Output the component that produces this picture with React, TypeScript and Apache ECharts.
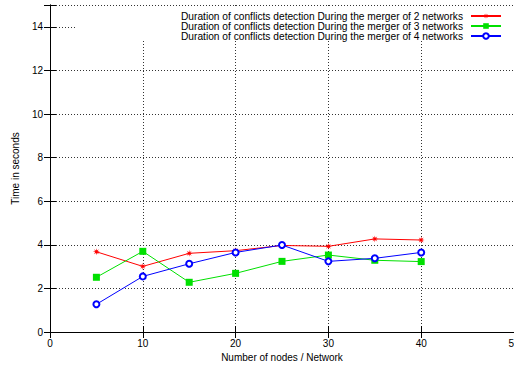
import React, { useEffect, useRef } from "react";
import * as echarts from "echarts";

const xValues = [5, 10, 15, 20, 25, 30, 35, 40];
const series2 = [3.68, 3.01, 3.61, 3.73, 3.97, 3.93, 4.27, 4.22];
const series3 = [2.51, 3.7, 2.28, 2.69, 3.24, 3.53, 3.29, 3.23];
const series4 = [1.27, 2.55, 3.13, 3.65, 3.99, 3.24, 3.38, 3.65];
const seriesNames = [
  "Duration of conflicts detection During the merger of 2 networks",
  "Duration of conflicts detection During the merger of 3 networks",
  "Duration of conflicts detection During the merger of 4 networks",
];
const xTitle = "Number of nodes / Network";
const yTitle = "Time in seconds";

const FONT = "Liberation Sans, Arial, Helvetica, sans-serif";
const starPath =
  "path://M5,0 L1.66,0.69 L3.54,3.54 L0.69,1.66 L0,5 L-0.69,1.66 L-3.54,3.54 L-1.66,0.69 L-5,0 L-1.66,-0.69 L-3.54,-3.54 L-0.69,-1.66 L0,-5 L0.69,-1.66 L3.54,-3.54 L1.66,-0.69 Z";

export default function App() {
  const ref = useRef<HTMLDivElement>(null);
  useEffect(() => {
    if (!ref.current) return;
    const chart = echarts.init(ref.current, undefined, { renderer: "svg" });
    const pair = (arr: number[]) => xValues.map((x, i) => [x, arr[i]]);
    const splitLine = {
      show: true,
      lineStyle: { color: "#333", width: 1, type: [1, 2] as any },
    };
    const axisLine = { show: true, lineStyle: { color: "#000", width: 1 } };
    const tick = { show: true, inside: true, length: 6, lineStyle: { color: "#000", width: 1 } };
    const label = { color: "#000", fontSize: 10, fontFamily: FONT };
    chart.setOption({
      animation: false,
      backgroundColor: "#fff",
      grid: { left: 50, right: 0, top: 5, bottom: 35, containLabel: false, outerBoundsMode: "none" },
      xAxis: [
        {
          type: "value",
          position: "bottom",
          min: 0,
          max: 50,
          interval: 10,
          axisLine,
          axisTick: tick,
          splitLine,
          axisLabel: { ...label, margin: 6 },
          name: xTitle,
          nameLocation: "middle",
          nameGap: 18,
          nameTextStyle: { color: "#000", fontSize: 10, fontFamily: FONT },
        },
        {
          type: "value",
          position: "top",
          min: 0,
          max: 50,
          interval: 10,
          axisLine,
          axisTick: tick,
          splitLine: { show: false },
          axisLabel: { show: false },
          z: 10,
        },
      ],
      yAxis: [
        {
          type: "value",
          position: "left",
          min: 0,
          max: 15,
          interval: 2,
          axisLine,
          axisTick: tick,
          splitLine,
          axisLabel: {
            ...label,
            margin: 7,
            formatter: (v: number) => (v === 15 ? "" : String(v)),
          },
          name: yTitle,
          nameLocation: "middle",
          nameGap: 30,
          nameTextStyle: { color: "#000", fontSize: 10, fontFamily: FONT },
        },
        {
          type: "value",
          position: "right",
          min: 0,
          max: 15,
          interval: 2,
          axisLine,
          axisTick: tick,
          splitLine: { show: false },
          axisLabel: { show: false },
          z: 10,
        },
      ],
      legend: {
        data: seriesNames,
        orient: "vertical",
        right: 12,
        top: 11,
        align: "right",
        itemWidth: 30,
        itemHeight: 7,
        itemGap: 0,
        padding: 0,
        textStyle: { color: "#000", fontSize: 10.2, lineHeight: 9.5, fontFamily: FONT, padding: [0, 3, 0, 0] },
        z: 6,
      },
      graphic: [
        {
          type: "rect",
          z: 3,
          shape: { x: 77, y: 6, width: 437, height: 34 },
          style: { fill: "#fff" },
        },
      ],
      series: [
        {
          name: seriesNames[0],
          type: "line",
          data: pair(series2),
          symbol: starPath,
          symbolSize: 7,
          color: "#ff0000",
          itemStyle: { color: "#ff0000" },
          lineStyle: { color: "#ff0000", width: 1 },
        },
        {
          name: seriesNames[1],
          type: "line",
          data: pair(series3),
          symbol: "rect",
          symbolSize: 7,
          color: "#00e000",
          itemStyle: { color: "#00e000" },
          lineStyle: { color: "#00e000", width: 1 },
        },
        {
          name: seriesNames[2],
          type: "line",
          data: pair(series4),
          symbol: "emptyCircle",
          symbolSize: 6,
          color: "#0000ff",
          itemStyle: { color: "#0000ff", borderWidth: 1 },
          lineStyle: { color: "#0000ff", width: 1 },
        },
      ],
    });
    return () => chart.dispose();
  }, []);
  return (
    <div
      ref={ref}
      style={{ position: "fixed", left: 0, top: 0, width: 514, height: 367, background: "#fff" }}
    />
  );
}
